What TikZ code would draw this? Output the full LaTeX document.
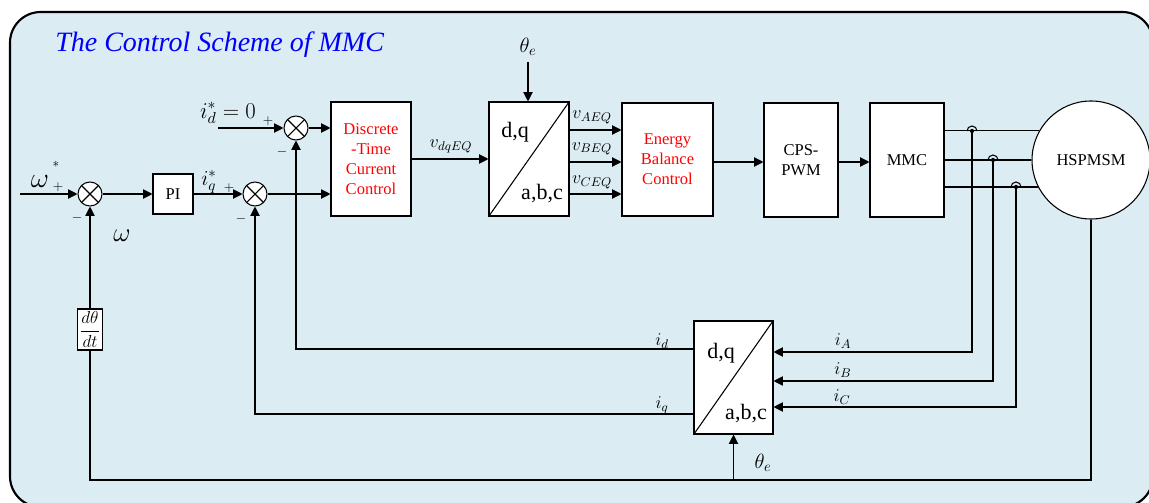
\RequirePackage{fix-cm}
\documentclass[tikz,border=0pt]{standalone}
\usepackage{fontspec}
\setmainfont{Liberation Serif}
\usetikzlibrary{arrows.meta,calc}
\definecolor{bgblue}{RGB}{219,236,242}
\definecolor{ttlblue}{RGB}{0,0,255}
\begin{document}
\begin{tikzpicture}[x=0.75pt,y=-0.75pt,
  ln/.style={line width=0.8pt,draw=black},
  arr/.style={ln,-{Triangle[length=7pt,width=7pt]}},
  blk/.style={draw=black,line width=0.8pt,fill=white,inner sep=0pt,align=center,font=\fontsize{12.4}{15}\selectfont},
  redtxt/.style={text=red},
  sumj/.style={circle,draw=black,line width=0.8pt,fill=white,minimum size=18pt,inner sep=0pt,
    path picture={\draw[line width=0.8pt] (path picture bounding box.north west)--(path picture bounding box.south east) (path picture bounding box.north east)--(path picture bounding box.south west);}},
  xform/.style={blk,path picture={\draw[line width=0.8pt] (path picture bounding box.south west)--(path picture bounding box.north east);}},
  lbl/.style={inner sep=0pt,font=\fontsize{13.5}{15}\selectfont},
  thlbl/.style={inner sep=0pt,font=\fontsize{15.5}{18}\selectfont},
  big/.style={inner sep=0pt,font=\fontsize{16.5}{18}\selectfont},
  sgn/.style={inner sep=0pt,font=\fontsize{10}{12}\selectfont},
]
\useasboundingbox (0,0) rectangle (1149,503);
\clip (0,0) rectangle (1149,503);
\draw[line width=1.6pt,fill=bgblue,rounded corners=23pt] (10,12) rectangle (1153,507);

\node[anchor=west,text=ttlblue,inner sep=0pt,font=\fontsize{21}{24}\selectfont\itshape] (title) at (55,45) {The Control Scheme of MMC};

% blocks
\node[sumj] (sum1) at (90,194) {};
\node[blk,minimum width=30pt,minimum height=30pt] (pi) at (173,194) {PI};
\node[sumj] (sum2) at (255,194) {};
\node[sumj] (sum3) at (296,128) {};
\node[blk,redtxt,minimum width=60pt,minimum height=85.5pt] (dtcc) at (371,159) {Discrete\\-Time\\Current\\Control};
\node[xform,minimum width=60pt,minimum height=85.5pt] (t1) at (529,159) {};
\node[blk,redtxt,minimum width=68.25pt,minimum height=84.75pt] (ebc) at (667.5,159.5) {Energy\\Balance\\Control};
\node[blk,minimum width=55.5pt,minimum height=85.5pt] (cps) at (801,160) {CPS-\\PWM};
\node[blk,minimum width=55.5pt,minimum height=85.5pt] (mmc) at (907,160) {MMC};
\node[blk,circle,minimum size=88.5pt] (motor) at (1091,160) {HSPMSM};
\node[xform,minimum width=59.25pt,minimum height=84.75pt] (t2) at (733.5,377.5) {};
\node[blk,minimum width=18.75pt,minimum height=30.75pt,inner sep=1pt,font=\fontsize{13}{15}\selectfont] (deriv) at (90,329.5) {$\displaystyle\frac{d\theta}{dt}$};

% text inside transforms
\node[big] (t1dq) at (515,132) {d,q};
\node[big] (t1abc) at (542,194) {a,b,c};
\node[big] (t2dq) at (721,353) {d,q};
\node[big] (t2abc) at (746,414) {a,b,c};

% coordinates
\coordinate (win) at (20,194);
\coordinate (idin) at (218,128);
\coordinate (th1) at (528,62);
\coordinate (j1) at (972,131);
\coordinate (j2) at (993,160);
\coordinate (j3) at (1016,187);
\coordinate (bl) at (90,480);

% forward path
\draw[arr] (win) -- (sum1);
\draw[arr] (sum1) -- (pi);
\draw[arr] (pi) -- (sum2);
\draw[arr] (sum2) -- (sum2 -| dtcc.west);
\draw[arr] (idin) -- (sum3);
\draw[arr] (sum3) -- (sum3 -| dtcc.west);
\draw[arr] (dtcc) -- (t1);
\draw[arr] (th1) -- (th1 |- t1.north);
\foreach \yy in {130,162,194} {\draw[arr] (t1.east |- 0,\yy) -- (ebc.west |- 0,\yy);}
\draw[arr] (ebc.east |- 0,162) -- (cps.west |- 0,162);
\draw[arr] (cps.east |- 0,162) -- (mmc.west |- 0,162);

% phase lines
\draw[ln] (mmc.east |- motor.150.6) -- (motor.150.6);
\draw[ln] (mmc.east |- motor.west) -- (motor.west);
\draw[ln] (mmc.east |- motor.207.2) -- (motor.207.2);
\foreach \j in {j1,j2,j3} {
  \draw[ln] ($(\j)+(-5,0)$) arc[start angle=180,end angle=0,radius=3.75pt];
  \fill (\j) circle[radius=1.6pt];
}

% measured currents
\draw[arr] (j1) |- (t2.east |- 0,352);
\draw[arr] (j2) |- (t2.east |- 0,381);
\draw[arr] (j3) |- (t2.east |- 0,407);
\draw[arr] (t2.west |- 0,349) -| (sum3.south);
\draw[arr] (t2.west |- 0,414) -| (sum2.south);

% speed feedback
\draw[ln] (motor.south) |- (bl) -- (deriv.south);
\draw[arr] (deriv.north) -- (sum1.south);
\draw[arr] (t2.south |- bl) -- (t2.south);

% labels
\node[inner sep=0pt,font=\fontsize{21}{24}\selectfont] (lw) at (40,181) {$\omega$};
\node[sgn] (lwstar) at (56,164) {$*$};
\node[sgn] (p1) at (58,187) {$+$};
\node[sgn] (m1) at (77,218) {$-$};
\node[inner sep=0pt,font=\fontsize{20}{24}\selectfont] (lw2) at (122,236) {$\omega$};
\node[inner sep=0pt,font=\fontsize{16}{18}\selectfont] (liq) at (209,182) {$i_q^*$};
\node[sgn] (p2) at (229,188) {$+$};
\node[sgn] (m2) at (241,219) {$-$};
\node[inner sep=0pt,font=\fontsize{17}{20}\selectfont] (lid) at (228,113) {$i_d^*=0$};
\node[sgn] (p3) at (268,121) {$+$};
\node[sgn] (m3) at (282,152) {$-$};
\node[lbl] (lvdq) at (451,146) {$v_{dqEQ}$};
\node[thlbl] (lth1) at (528,47) {$\theta_e$};
\node[lbl] (lva) at (592,117) {$v_{AEQ}$};
\node[lbl] (lvb) at (592,149) {$v_{BEQ}$};
\node[lbl] (lvc) at (592,182) {$v_{CEQ}$};
\node[lbl] (lid2) at (662,341) {$i_d$};
\node[lbl] (liq2) at (662,405) {$i_q$};
\node[lbl] (lia) at (843,341) {$i_A$};
\node[lbl] (lib) at (843,370) {$i_B$};
\node[lbl] (lic) at (842,397) {$i_C$};
\node[thlbl] (lth2) at (763,463) {$\theta_e$};
\end{tikzpicture}
\end{document}
